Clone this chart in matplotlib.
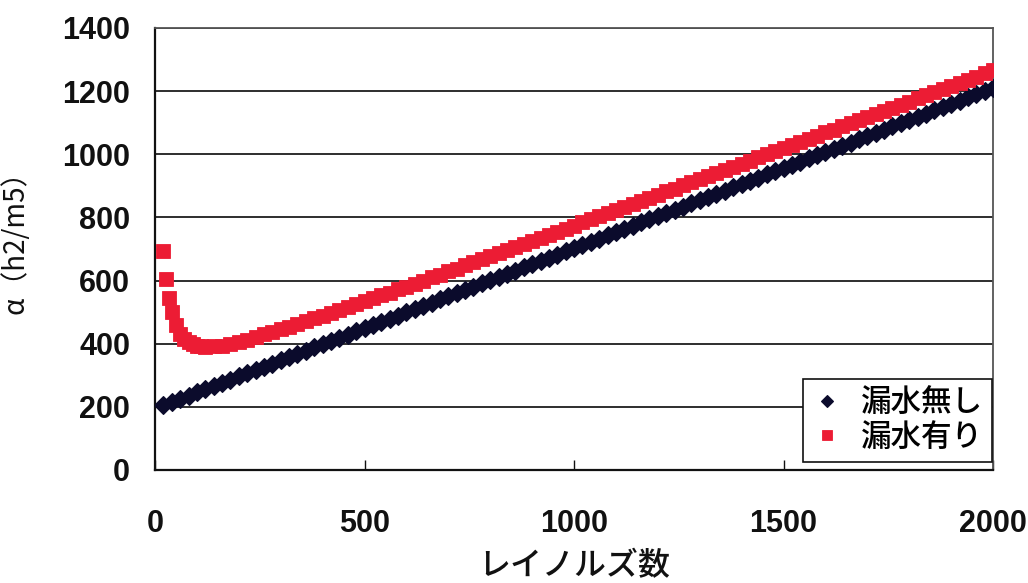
import matplotlib
matplotlib.use("Agg")
import matplotlib.pyplot as plt

plt.rcParams['font.family'] = ['Liberation Sans', 'Noto Sans CJK JP', 'DejaVu Sans']

# Reynolds number samples and the resistance coefficient alpha (h2/m5)
re_no_leak = list(range(20, 2001, 20))
alpha_no_leak = [
    205, 215, 225, 235, 246, 256, 266, 276, 286, 296,
    307, 317, 327, 337, 347, 357, 367, 378, 388, 398,
    408, 418, 428, 439, 449, 459, 469, 479, 489, 499,
    510, 520, 530, 540, 550, 560, 570, 581, 591, 601,
    611, 621, 631, 642, 652, 662, 672, 682, 692, 702,
    713, 723, 733, 743, 753, 763, 773, 784, 794, 804,
    814, 824, 834, 845, 855, 865, 875, 885, 895, 905,
    916, 926, 936, 946, 956, 966, 977, 987, 997, 1007,
    1017, 1027, 1037, 1048, 1058, 1068, 1078, 1088, 1098, 1108,
    1119, 1129, 1139, 1149, 1159, 1169, 1180, 1190, 1200, 1210,
]

re_leak = [20, 26, 33, 40, 50, 60, 70, 80, 90, 100, 110, 120, 140, 160, 180, 200] + list(range(220, 2001, 20))
alpha_leak = [
    695, 604, 546, 500, 458, 432, 416, 405, 398, 394, 391, 390, 391, 394, 398, 404,
    412, 422, 430, 437, 445, 454, 462, 471, 480, 488,
    497, 506, 516, 525, 534, 543, 553, 562, 572, 581,
    590, 600, 610, 619, 629, 638, 648, 658, 667, 677,
    686, 696, 706, 716, 725, 735, 745, 755, 764, 774,
    784, 794, 803, 813, 823, 833, 842, 852, 862, 872,
    882, 891, 901, 911, 921, 931, 941, 951, 960, 970,
    980, 990, 1000, 1010, 1019, 1029, 1039, 1049, 1059, 1069,
    1078, 1088, 1098, 1108, 1118, 1128, 1138, 1148, 1157, 1167,
    1177, 1187, 1197, 1207, 1217, 1227, 1236, 1246, 1256, 1266,
]

labels = ['漏水無し', '漏水有り']
x_ticks = [0, 500, 1000, 1500, 2000]
y_ticks = [0, 200, 400, 600, 800, 1000, 1200, 1400]

navy = '#0b0b2c'
red = '#ec1c34'

fig = plt.figure(figsize=(10.28, 5.83), dpi=100)
ax = fig.add_axes([0.1508, 0.194, 0.8152, 0.758])

ax.plot(re_no_leak, alpha_no_leak, linestyle='none', marker='D', ms=9.3,
        color=navy, mec=navy, mew=0.8, label=labels[0], zorder=3)
ax.plot(re_leak, alpha_leak, linestyle='none', marker='s', ms=9.8,
        color=red, mec=red, mew=0.6, label=labels[1], zorder=4)

ax.set_xlim(0, 2000)
ax.set_ylim(0, 1400)
ax.set_xticks(x_ticks)
ax.set_yticks(y_ticks)
ax.yaxis.grid(True, color='#2e2e2e', linewidth=1.4)
ax.set_axisbelow(True)

for side in ['left', 'bottom']:
    ax.spines[side].set_color('#111111')
    ax.spines[side].set_linewidth(1.6)
for side in ['top', 'right']:
    ax.spines[side].set_color('#555555')
    ax.spines[side].set_linewidth(1.3)

ax.tick_params(axis='x', direction='in', length=7, width=1, pad=28,
               labelsize=22, colors='#111111')
ax.tick_params(axis='y', direction='in', length=0, pad=18,
               labelsize=22, colors='#111111')
for lab in ax.get_xticklabels() + ax.get_yticklabels():
    lab.set_fontweight('bold')

ax.set_xlabel('レイノルズ数', fontsize=23, family=['Noto Sans CJK JP'],
              fontweight='medium', labelpad=8, color='#111111')
ax.set_ylabel('α（h2/m5）', fontsize=20, family=['Noto Sans CJK JP'],
              color='#111111')
ax.yaxis.set_label_coords(-0.148, 0.53)

leg = ax.legend(loc='lower right', bbox_to_anchor=(0.999, 0.018), borderaxespad=0,
                prop={'family': ['Noto Sans CJK JP'], 'size': 22, 'weight': 'medium'},
                frameon=True, fancybox=False, edgecolor='#111111', framealpha=1,
                handlelength=1.0, handletextpad=0.6, borderpad=0.3, labelspacing=0.1,
                markerscale=0.7)
leg.get_frame().set_linewidth(1.2)

fig.savefig('out.png', dpi=100)
